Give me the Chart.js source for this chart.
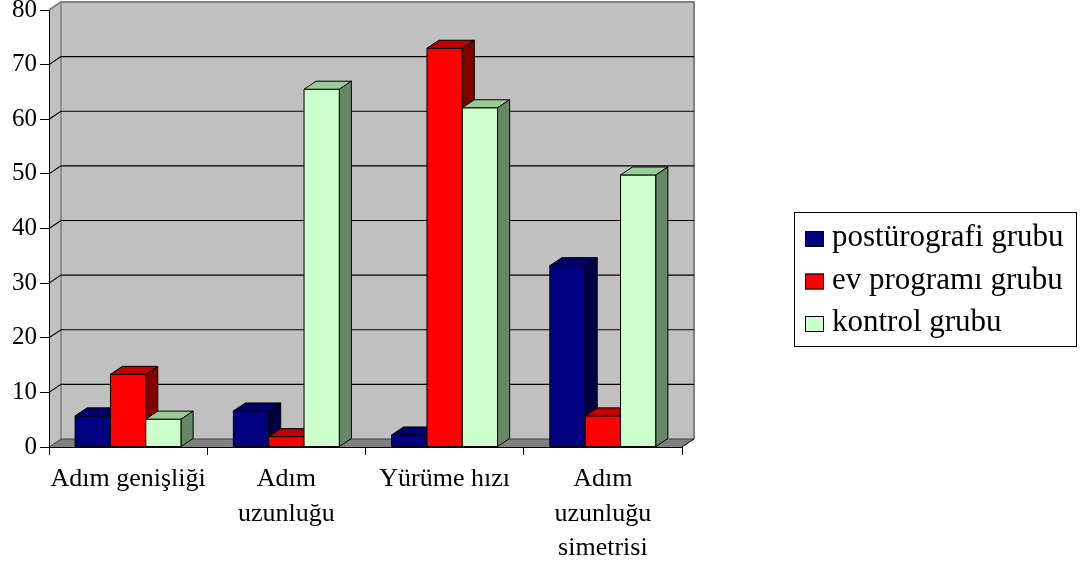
<!DOCTYPE html>
<html>
<head>
<meta charset="utf-8">
<script src="https://cdn.jsdelivr.net/npm/chart.js@4.4.1/dist/chart.umd.min.js"></script>
<style>
  html, body { margin: 0; padding: 0; background: #ffffff; }
  #wrap { width: 1087px; height: 569px; }
</style>
</head>
<body>
<div id="wrap"><canvas id="c" width="1087" height="569"></canvas></div>
<script>
// Categories and series values (percent)
const categories = ['Adım genişliği', ['Adım', 'uzunluğu'], 'Yürüme hızı', ['Adım', 'uzunluğu', 'simetrisi']];
const seriesNames = ['postürografi grubu', 'ev programı grubu', 'kontrol grubu'];
const posturografi = [5.7, 6.6, 2.2, 33.2];
const evProgrami = [13.3, 1.9, 73.0, 5.7];
const kontrol = [5.1, 65.5, 62.1, 49.8];
const yTicks = [0, 10, 20, 30, 40, 50, 60, 70, 80];

// Face colours for each series: front, top, side
const faces = [
  { front: '#000080', top: '#000066', side: '#000040' },
  { front: '#ff0000', top: '#c00000', side: '#800000' },
  { front: '#ccffcc', top: '#99cc99', side: '#668866' }
];

const SERIF = '"Liberation Serif", "Times New Roman", serif';
const DX = 12, DY = -8;   // depth offset of the 3D box

function poly(ctx, pts, fill, stroke, lw) {
  ctx.beginPath();
  ctx.moveTo(pts[0][0], pts[0][1]);
  for (let i = 1; i < pts.length; i++) ctx.lineTo(pts[i][0], pts[i][1]);
  ctx.closePath();
  if (fill) { ctx.fillStyle = fill; ctx.fill(); }
  if (stroke) { ctx.strokeStyle = stroke; ctx.lineWidth = lw || 1; ctx.stroke(); }
}

// Walls, floor and gridlines behind the columns
const frame3d = {
  id: 'frame3d',
  beforeDraw(chart) {
    const ctx = chart.ctx;
    const { left, right, top, bottom } = chart.chartArea;
    const ys = chart.scales.y;
    ctx.save();
    // back wall
    poly(ctx, [[left + DX, top + DY], [right + DX, top + DY], [right + DX, bottom + DY], [left + DX, bottom + DY]], '#c0c0c0');
    // left side wall
    poly(ctx, [[left, top], [left + DX, top + DY], [left + DX, bottom + DY], [left, bottom]], '#c0c0c0');
    // floor
    poly(ctx, [[left, bottom], [left + DX, bottom + DY], [right + DX, bottom + DY], [right, bottom]], '#808080');
    // wall edges
    ctx.strokeStyle = '#808080';
    ctx.lineWidth = 1.5;
    ctx.beginPath();
    ctx.moveTo(left + DX, bottom + DY);
    ctx.lineTo(left + DX, top + DY);
    ctx.stroke();
    ctx.lineWidth = 2;
    ctx.beginPath();
    ctx.moveTo(left, top);
    ctx.lineTo(left + DX, top + DY);
    ctx.lineTo(right + DX, top + DY);
    ctx.lineTo(right + DX, bottom + DY);
    ctx.stroke();
    // gridlines
    ctx.strokeStyle = '#000000';
    ctx.lineWidth = 1.2;
    yTicks.forEach(v => {
      if (v === 0 || v === yTicks[yTicks.length - 1]) return;
      const y = ys.getPixelForValue(v);
      ctx.beginPath();
      ctx.moveTo(left, y);
      ctx.lineTo(left + DX, y + DY);
      ctx.lineTo(right + DX, y + DY);
      ctx.stroke();
    });
    // floor edges
    ctx.strokeStyle = '#404040';
    ctx.lineWidth = 1;
    ctx.beginPath();
    ctx.moveTo(left, bottom);
    ctx.lineTo(left + DX, bottom + DY);
    ctx.lineTo(right + DX, bottom + DY);
    ctx.stroke();
    ctx.strokeStyle = '#000000';
    ctx.beginPath();
    ctx.moveTo(right, bottom);
    ctx.lineTo(right + DX, bottom + DY);
    ctx.stroke();
    ctx.restore();
  },
  // columns with top and side faces, painted left to right
  afterDatasetsDraw(chart) {
    const ctx = chart.ctx;
    const n = chart.data.labels.length;
    ctx.save();
    ctx.lineJoin = 'miter';
    for (let i = 0; i < n; i++) {
      chart.data.datasets.forEach((ds, d) => {
        const el = chart.getDatasetMeta(d).data[i];
        const f = faces[d];
        const xl = el.x - el.width / 2, xr = el.x + el.width / 2;
        const y = el.y, b = el.base;
        poly(ctx, [[xl, y], [xr, y], [xr, b], [xl, b]], f.front, '#000', 1);
        poly(ctx, [[xl, y], [xl + DX, y + DY], [xr + DX, y + DY], [xr, y]], f.top, '#000', 1);
        poly(ctx, [[xr, y], [xr + DX, y + DY], [xr + DX, b + DY], [xr, b]], f.side, '#000', 1);
      });
    }
    ctx.restore();
  },
  // boxed legend on the right
  afterDraw(chart) {
    const ctx = chart.ctx;
    ctx.save();
    ctx.strokeStyle = '#000';
    ctx.lineWidth = 1;
    ctx.strokeRect(794.5, 212.5, 282, 134);
    ctx.font = '31px ' + SERIF;
    ctx.fillStyle = '#000';
    ctx.textAlign = 'left';
    ctx.textBaseline = 'alphabetic';
    chart.data.datasets.forEach((ds, d) => {
      const cy = 239 + d * 42.5;
      ctx.fillStyle = faces[d].front;
      ctx.fillRect(805, cy - 8, 19, 16);
      ctx.strokeStyle = '#000';
      ctx.strokeRect(805.5, cy - 7.5, 18, 15);
      ctx.fillStyle = '#000';
      ctx.fillText(ds.label, 832, cy + 7);
    });
    ctx.restore();
  }
};

const seriesValues = [posturografi, evProgrami, kontrol];

new Chart(document.getElementById('c'), {
  type: 'bar',
  data: {
    labels: categories,
    datasets: seriesValues.map((vals, d) => ({
      label: seriesNames[d],
      data: vals,
      backgroundColor: faces[d].front,
      borderWidth: 0,
      categoryPercentage: 0.67,
      barPercentage: 1.0
    }))
  },
  options: {
    responsive: false,
    animation: false,
    devicePixelRatio: 1,
    layout: { padding: { left: 0, top: 10, right: 405, bottom: 0 } },
    plugins: {
      legend: { display: false },
      tooltip: { enabled: false }
    },
    scales: {
      x: {
        grid: { display: true, offset: true, drawOnChartArea: false, drawTicks: true, tickLength: 8, color: '#000', lineWidth: 1 },
        border: { display: true, color: '#000', width: 1 },
        ticks: { color: '#000', font: { family: SERIF, size: 26, lineHeight: 1.33 }, padding: 7, maxRotation: 0, autoSkip: false },
        afterFit(s) { s.height = 122; s.paddingLeft = 0; s.paddingRight = 0; }
      },
      y: {
        min: 0, max: 80,
        grid: { display: true, drawOnChartArea: false, drawTicks: true, tickLength: 9, color: '#000', lineWidth: 1 },
        border: { display: true, color: '#000', width: 1 },
        ticks: { stepSize: 10, color: '#000', font: { family: SERIF, size: 25 }, padding: 3 },
        afterFit(s) { s.width = 49; s.paddingTop = 0; s.paddingBottom = 0; }
      }
    }
  },
  plugins: [frame3d]
});
</script>
</body>
</html>
